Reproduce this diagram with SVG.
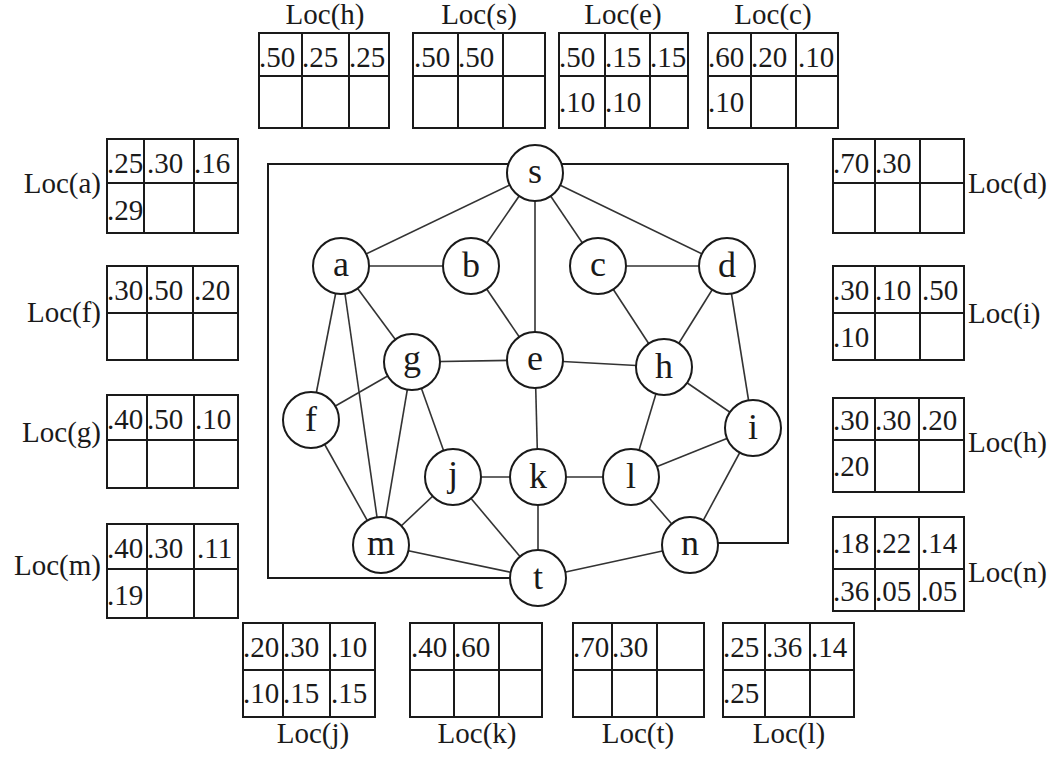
<svg xmlns="http://www.w3.org/2000/svg" width="1057" height="759" viewBox="0 0 1057 759">
<style>
text{font-family:"Liberation Serif","Times New Roman",serif;fill:#1a1a1a}
.lbl{font-size:29px}
.num{font-size:29px}
.nl{font-size:36px;text-anchor:middle}
.tb{fill:none;stroke:#1a1a1a;stroke-width:2}
.nd{fill:#fff;stroke:#1a1a1a;stroke-width:2}
.ed{stroke:#333;stroke-width:1.6;fill:none}
.bx{stroke:#1a1a1a;stroke-width:2;fill:none}
</style>
<rect width="1057" height="759" fill="#fff"/>

<g id="connectors">
<path class="bx" d="M538,578 H268 V164 H788 V543 H690"/>
<line class="ed" x1="535" y1="173" x2="341" y2="266"/>
<line class="ed" x1="535" y1="173" x2="471" y2="266"/>
<line class="ed" x1="535" y1="173" x2="535" y2="360"/>
<line class="ed" x1="535" y1="173" x2="598" y2="266"/>
<line class="ed" x1="535" y1="173" x2="727" y2="266"/>
<line class="ed" x1="341" y1="266" x2="471" y2="266"/>
<line class="ed" x1="598" y1="266" x2="727" y2="266"/>
<line class="ed" x1="341" y1="266" x2="311" y2="420"/>
<line class="ed" x1="341" y1="266" x2="381" y2="545"/>
<line class="ed" x1="341" y1="266" x2="412" y2="362"/>
<line class="ed" x1="471" y1="266" x2="535" y2="360"/>
<line class="ed" x1="412" y1="362" x2="535" y2="360"/>
<line class="ed" x1="535" y1="360" x2="664" y2="367"/>
<line class="ed" x1="412" y1="362" x2="311" y2="420"/>
<line class="ed" x1="412" y1="362" x2="381" y2="545"/>
<line class="ed" x1="412" y1="362" x2="453" y2="477"/>
<line class="ed" x1="598" y1="266" x2="664" y2="367"/>
<line class="ed" x1="727" y1="266" x2="664" y2="367"/>
<line class="ed" x1="727" y1="266" x2="753" y2="428"/>
<line class="ed" x1="664" y1="367" x2="753" y2="428"/>
<line class="ed" x1="664" y1="367" x2="631" y2="477"/>
<line class="ed" x1="535" y1="360" x2="538" y2="477"/>
<line class="ed" x1="311" y1="420" x2="381" y2="545"/>
<line class="ed" x1="453" y1="477" x2="538" y2="477"/>
<line class="ed" x1="538" y1="477" x2="631" y2="477"/>
<line class="ed" x1="453" y1="477" x2="381" y2="545"/>
<line class="ed" x1="453" y1="477" x2="538" y2="578"/>
<line class="ed" x1="538" y1="477" x2="538" y2="578"/>
<line class="ed" x1="631" y1="477" x2="753" y2="428"/>
<line class="ed" x1="631" y1="477" x2="690" y2="545"/>
<line class="ed" x1="753" y1="428" x2="690" y2="545"/>
<line class="ed" x1="381" y1="545" x2="538" y2="578"/>
<line class="ed" x1="538" y1="578" x2="690" y2="545"/>
</g>

<g id="node-s"><circle class="nd" cx="535" cy="173" r="28"/><text class="nl" x="535" y="183">s</text></g>
<g id="node-a"><circle class="nd" cx="341" cy="266" r="28"/><text class="nl" x="341" y="276">a</text></g>
<g id="node-b"><circle class="nd" cx="471" cy="266" r="28"/><text class="nl" x="471" y="277">b</text></g>
<g id="node-c"><circle class="nd" cx="598" cy="266" r="28"/><text class="nl" x="598" y="276">c</text></g>
<g id="node-d"><circle class="nd" cx="727" cy="266" r="28"/><text class="nl" x="727" y="277">d</text></g>
<g id="node-g"><circle class="nd" cx="412" cy="362" r="28"/><text class="nl" x="412" y="370">g</text></g>
<g id="node-e"><circle class="nd" cx="535" cy="360" r="28"/><text class="nl" x="535" y="370">e</text></g>
<g id="node-h"><circle class="nd" cx="664" cy="367" r="28"/><text class="nl" x="664" y="378">h</text></g>
<g id="node-f"><circle class="nd" cx="311" cy="420" r="28"/><text class="nl" x="311" y="431">f</text></g>
<g id="node-i"><circle class="nd" cx="753" cy="428" r="28"/><text class="nl" x="753" y="439">i</text></g>
<g id="node-j"><circle class="nd" cx="453" cy="477" r="28"/><text class="nl" x="453" y="486">j</text></g>
<g id="node-k"><circle class="nd" cx="538" cy="477" r="28"/><text class="nl" x="538" y="488">k</text></g>
<g id="node-l"><circle class="nd" cx="631" cy="477" r="28"/><text class="nl" x="631" y="488">l</text></g>
<g id="node-m"><circle class="nd" cx="381" cy="545" r="28"/><text class="nl" x="381" y="555">m</text></g>
<g id="node-n"><circle class="nd" cx="690" cy="545" r="28"/><text class="nl" x="690" y="555">n</text></g>
<g id="node-t"><circle class="nd" cx="538" cy="578" r="28"/><text class="nl" x="538" y="589">t</text></g>

<!-- top tables -->
<g id="loc-h-top">
<path class="tb" d="M259,33 H389 V128 H259 Z M259,76 H389 M302,33 V128 M349,33 V128"/>
<text class="lbl" x="325" y="24" text-anchor="middle">Loc(h)</text>
<text class="num" x="259" y="67">.50</text><text class="num" x="302" y="67">.25</text><text class="num" x="349" y="67">.25</text>
</g>
<g id="loc-s">
<path class="tb" d="M413,33 H545 V128 H413 Z M413,76 H545 M458,33 V128 M503,33 V128"/>
<text class="lbl" x="479" y="24" text-anchor="middle">Loc(s)</text>
<text class="num" x="414" y="67">.50</text><text class="num" x="458" y="67">.50</text>
</g>
<g id="loc-e">
<path class="tb" d="M559,33 H688 V128 H559 Z M559,76 H688 M605,33 V128 M650,33 V128"/>
<text class="lbl" x="623" y="24" text-anchor="middle">Loc(e)</text>
<text class="num" x="559" y="67">.50</text><text class="num" x="605" y="67">.15</text><text class="num" x="650" y="67">.15</text>
<text class="num" x="559" y="112">.10</text><text class="num" x="605" y="112">.10</text>
</g>
<g id="loc-c">
<path class="tb" d="M708,33 H838 V128 H708 Z M708,76 H838 M751,33 V128 M796,33 V128"/>
<text class="lbl" x="773" y="24" text-anchor="middle">Loc(c)</text>
<text class="num" x="708" y="67">.60</text><text class="num" x="751" y="67">.20</text><text class="num" x="798" y="67">.10</text>
<text class="num" x="708" y="112">.10</text>
</g>

<!-- left tables -->
<g id="loc-a">
<path class="tb" d="M107,139 H238 V233 H107 Z M107,183 H238 M144,139 V233 M194,139 V233"/>
<text class="lbl" x="101" y="193" text-anchor="end">Loc(a)</text>
<text class="num" x="107" y="173">.25</text><text class="num" x="147" y="173">.30</text><text class="num" x="194" y="173">.16</text>
<text class="num" x="107" y="220">.29</text>
</g>
<g id="loc-f">
<path class="tb" d="M107,266 H238 V360 H107 Z M107,313 H238 M147,266 V360 M193,266 V360"/>
<text class="lbl" x="101" y="322" text-anchor="end">Loc(f)</text>
<text class="num" x="107" y="300">.30</text><text class="num" x="147" y="300">.50</text><text class="num" x="194" y="300">.20</text>
</g>
<g id="loc-g">
<path class="tb" d="M107,395 H238 V488 H107 Z M107,440 H238 M147,395 V488 M194,395 V488"/>
<text class="lbl" x="101" y="442" text-anchor="end">Loc(g)</text>
<text class="num" x="107" y="429">.40</text><text class="num" x="147" y="429">.50</text><text class="num" x="195" y="429">.10</text>
</g>
<g id="loc-m">
<path class="tb" d="M107,524 H238 V618 H107 Z M107,569 H238 M147,524 V618 M194,524 V618"/>
<text class="lbl" x="101" y="575" text-anchor="end">Loc(m)</text>
<text class="num" x="107" y="558">.40</text><text class="num" x="147" y="558">.30</text><text class="num" x="197" y="558">.11</text>
<text class="num" x="107" y="605">.19</text>
</g>

<!-- right tables -->
<g id="loc-d">
<path class="tb" d="M833,139 H964 V233 H833 Z M833,183 H964 M875,139 V233 M920,139 V233"/>
<text class="lbl" x="968" y="193">Loc(d)</text>
<text class="num" x="833" y="173">.70</text><text class="num" x="875" y="173">.30</text>
</g>
<g id="loc-i">
<path class="tb" d="M833,266 H964 V360 H833 Z M833,313 H964 M875,266 V360 M920,266 V360"/>
<text class="lbl" x="968" y="323">Loc(i)</text>
<text class="num" x="833" y="300">.30</text><text class="num" x="875" y="300">.10</text><text class="num" x="922" y="300">.50</text>
<text class="num" x="833" y="347">.10</text>
</g>
<g id="loc-h-right">
<path class="tb" d="M833,398 H964 V492 H833 Z M833,440 H964 M875,398 V492 M919,398 V492"/>
<text class="lbl" x="968" y="452">Loc(h)</text>
<text class="num" x="833" y="430">.30</text><text class="num" x="875" y="430">.30</text><text class="num" x="921" y="430">.20</text>
<text class="num" x="833" y="476">.20</text>
</g>
<g id="loc-n">
<path class="tb" d="M833,517 H964 V611 H833 Z M833,569 H964 M875,517 V611 M919,517 V611"/>
<text class="lbl" x="968" y="582">Loc(n)</text>
<text class="num" x="833" y="553">.18</text><text class="num" x="875" y="553">.22</text><text class="num" x="921" y="553">.14</text>
<text class="num" x="833" y="601">.36</text><text class="num" x="875" y="601">.05</text><text class="num" x="921" y="601">.05</text>
</g>

<!-- bottom tables -->
<g id="loc-j">
<path class="tb" d="M243,623 H375 V717 H243 Z M243,670 H375 M283,623 V717 M330,623 V717"/>
<text class="lbl" x="313" y="743" text-anchor="middle">Loc(j)</text>
<text class="num" x="243" y="657">.20</text><text class="num" x="283" y="657">.30</text><text class="num" x="331" y="657">.10</text>
<text class="num" x="243" y="703">.10</text><text class="num" x="283" y="703">.15</text><text class="num" x="331" y="703">.15</text>
</g>
<g id="loc-k">
<path class="tb" d="M410,623 H542 V717 H410 Z M410,670 H542 M454,623 V717 M499,623 V717"/>
<text class="lbl" x="477" y="743" text-anchor="middle">Loc(k)</text>
<text class="num" x="411" y="657">.40</text><text class="num" x="454" y="657">.60</text>
</g>
<g id="loc-t">
<path class="tb" d="M573,623 H704 V717 H573 Z M573,670 H704 M612,623 V717 M657,623 V717"/>
<text class="lbl" x="638" y="743" text-anchor="middle">Loc(t)</text>
<text class="num" x="573" y="657">.70</text><text class="num" x="612" y="657">.30</text>
</g>
<g id="loc-l">
<path class="tb" d="M723,623 H854 V717 H723 Z M723,670 H854 M765,623 V717 M810,623 V717"/>
<text class="lbl" x="789" y="743" text-anchor="middle">Loc(l)</text>
<text class="num" x="723" y="657">.25</text><text class="num" x="766" y="657">.36</text><text class="num" x="811" y="657">.14</text>
<text class="num" x="723" y="703">.25</text>
</g>
</svg>
